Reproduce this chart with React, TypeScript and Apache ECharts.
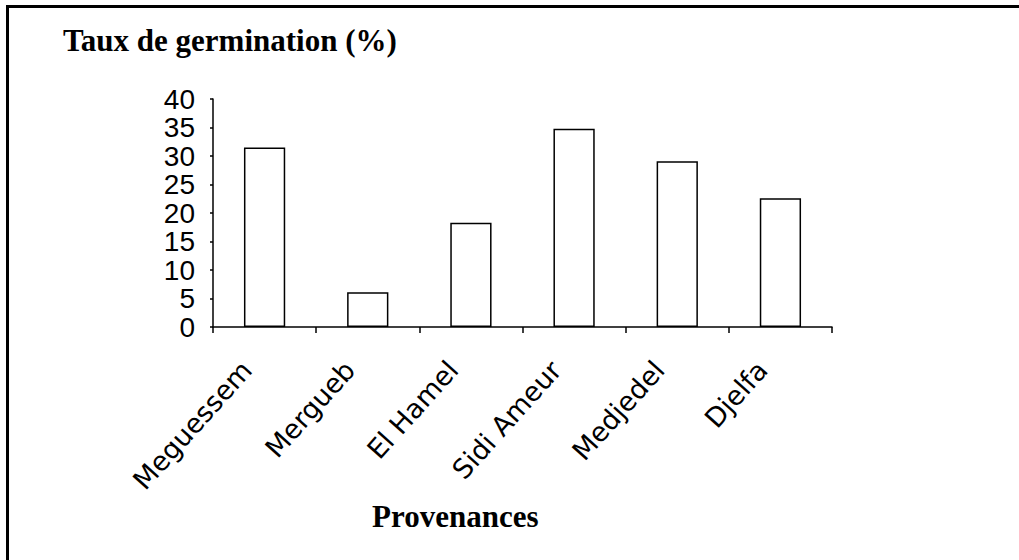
import React, { useEffect, useRef } from "react";
import * as echarts from "echarts";

const categories = ["Meguessem", "Mergueb", "El Hamel", "Sidi Ameur", "Medjedel", "Djelfa"];
const germination = [31.5, 6.1, 18.3, 34.8, 29.1, 22.6];
const yTicks = { min: 0, max: 40, interval: 5 };
const titleText = "Taux de germination (%)";
const xTitleText = "Provenances";

export default function App() {
  const ref = useRef<HTMLDivElement>(null);
  useEffect(() => {
    if (!ref.current) return;
    const chart = echarts.init(ref.current, null, { renderer: "svg" });
    chart.setOption({
      animation: false,
      backgroundColor: "#ffffff",
      grid: { left: 213, right: 187, top: 99, bottom: 233, containLabel: false },
      xAxis: {
        type: "category",
        data: categories,
        boundaryGap: true,
        axisLine: { lineStyle: { color: "#000", width: 1.5 } },
        axisTick: { show: true, length: 6, alignWithLabel: false, lineStyle: { color: "#000", width: 1.5 } },
        axisLabel: {
          rotate: 48,
          margin: 18,
          padding: [0, 27, 0, 0],
          color: "#000",
          fontFamily: "DejaVu Sans, Liberation Sans, Arial, sans-serif",
          fontSize: 27,
          interval: 0,
        },
      },
      yAxis: {
        type: "value",
        min: yTicks.min,
        max: yTicks.max,
        interval: yTicks.interval,
        splitLine: { show: false },
        axisLine: { show: true, lineStyle: { color: "#000", width: 1.5 } },
        axisTick: { show: true, length: 3, lineStyle: { color: "#000", width: 1.5 } },
        axisLabel: {
          margin: 18,
          color: "#000",
          fontFamily: "Liberation Sans Narrow, Liberation Sans, Arial, sans-serif",
          fontSize: 28,
        },
      },
      series: [
        {
          type: "bar",
          data: germination,
          barWidth: "40%",
          itemStyle: { color: "#ffffff", borderColor: "#000", borderWidth: 1.5 },
        },
      ],
      graphic: [
        {
          type: "polyline",
          shape: { points: [[7.5, 560], [7.5, 6.5], [1019, 6.5]] },
          style: { stroke: "#000", lineWidth: 3, fill: "none" },
        },
        {
          type: "text",
          x: 63,
          y: 25,
          style: {
            text: titleText,
            font: "bold 31px 'Liberation Serif', 'Times New Roman', serif",
            fill: "#000",
          },
        },
        {
          type: "text",
          x: 372,
          y: 501,
          style: {
            text: xTitleText,
            font: "bold 31px 'Liberation Serif', 'Times New Roman', serif",
            fill: "#000",
          },
        },
      ],
    });
    return () => chart.dispose();
  }, []);
  return (
    <div
      ref={ref}
      style={{ position: "fixed", left: 0, top: 0, width: 1019, height: 560, background: "#fff" }}
    />
  );
}
